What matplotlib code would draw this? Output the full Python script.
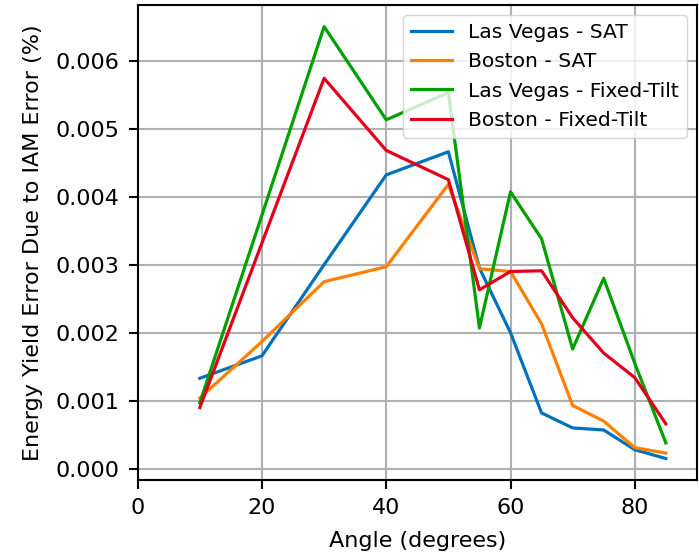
import numpy as np
import matplotlib.pyplot as plt

angle = [10, 20, 30, 40, 50, 55, 60, 65, 70, 75, 80, 85]

lv_sat = [0.00133, 0.00166, 0.00300, 0.00432, 0.00466, 0.00295, 0.00200, 0.00082, 0.00060, 0.00057, 0.00028, 0.00015]
bos_sat = [0.00104, 0.00187, 0.00275, 0.00297, 0.00418, 0.00294, 0.00290, 0.00213, 0.00093, 0.00070, 0.00031, 0.00023]
lv_fixed = [0.00097, 0.00373, 0.00650, 0.00513, 0.00553, 0.00207, 0.00407, 0.00338, 0.00176, 0.00280, 0.00155, 0.00038]
bos_fixed = [0.00090, 0.00332, 0.00574, 0.00468, 0.00425, 0.00263, 0.00290, 0.00291, 0.00222, 0.00170, 0.00134, 0.00066]

labels = ['Las Vegas - SAT', 'Boston - SAT', 'Las Vegas - Fixed-Tilt', 'Boston - Fixed-Tilt']
colors = ['#0072BD', '#FF7F00', '#00A000', '#E3001B']

plt.rcParams['font.size'] = 16

fig = plt.figure(figsize=(6.99, 5.57), dpi=100)
ax = fig.add_axes([0.197, 0.138, 0.8, 0.853])

for y, lab, c in zip([lv_sat, bos_sat, lv_fixed, bos_fixed], labels, colors):
    ax.plot(angle, y, color=c, lw=2.3, label=lab)

ax.set_xlim(0, 90)
ax.set_xticks([0, 20, 40, 60, 80])
ax.set_yticks(np.arange(0, 0.0061, 0.001))
ax.yaxis.set_major_formatter(plt.FormatStrFormatter('%.3f'))
ax.grid(True, color='#b0b0b0', lw=1.5)
ax.set_axisbelow(True)
for s in ax.spines.values():
    s.set_linewidth(1.5)
ax.tick_params(width=1.5, length=6.2, pad=7)

ax.set_xlabel('Angle (degrees)', labelpad=9)
ax.set_ylabel('Energy Yield Error Due to IAM Error (%)', labelpad=9)
ax.legend(loc='upper right', fontsize=14.6, handlelength=2.0)

fig.savefig('out.png', dpi=100)
